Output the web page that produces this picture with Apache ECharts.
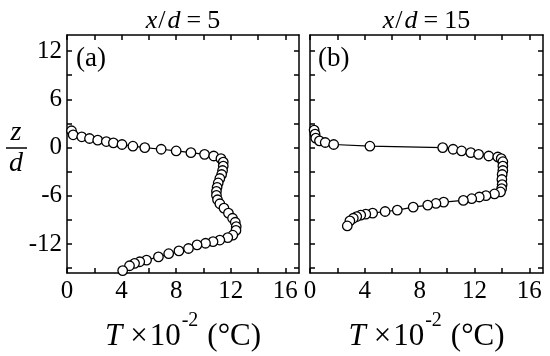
<!DOCTYPE html>
<html>
<head>
<meta charset="utf-8">
<script src="https://cdn.jsdelivr.net/npm/echarts@6/dist/echarts.min.js"></script>
<style>
html,body{margin:0;padding:0;background:#fff;}
#c{width:550px;height:356px;}
</style>
</head>
<body>
<div id="c"></div>
<script>
// Panel (a): x/d = 5
const tA = [0.33,0.45,1.08,1.65,2.25,2.88,3.4,4.03,4.83,5.7,6.9,8.0,9.08,10.08,10.75,11.28,11.45,11.45,11.4,11.33,11.2,11.08,11.0,10.95,10.95,11.03,11.2,11.5,11.83,12.13,12.33,12.4,12.38,12.15,11.78,11.2,10.7,10.15,9.53,8.9,8.2,7.45,6.7,5.83,5.33,4.95,4.58,4.08];
const zA = [2.09,1.59,1.34,1.13,0.92,0.75,0.59,0.38,0.17,0,-0.21,-0.42,-0.63,-0.84,-1.05,-1.38,-1.8,-2.3,-2.85,-3.35,-3.85,-4.4,-4.94,-5.44,-5.94,-6.49,-6.99,-7.53,-8.16,-8.79,-9.29,-9.83,-10.3,-10.9,-11.2,-11.5,-11.7,-11.9,-12.1,-12.55,-12.85,-13.2,-13.6,-14.0,-14.2,-14.4,-14.7,-15.3];
// Panel (b): x/d = 15
const tB = [0.3,0.37,0.42,0.69,1.11,1.73,4.37,9.68,10.44,11.06,11.73,12.3,13.04,13.7,13.95,14.07,14.07,14.07,14.02,14.0,14.02,13.98,13.9,13.46,12.84,12.35,11.8,11.19,9.75,9.19,8.59,7.53,6.37,5.48,4.57,4.07,3.7,3.41,3.16,2.91,2.72];
const zB = [2.18,1.67,1.17,0.84,0.63,0.38,0.17,0,-0.21,-0.42,-0.63,-0.84,-1.05,-1.17,-1.38,-1.76,-2.3,-2.85,-3.35,-3.97,-4.6,-5.1,-5.52,-5.77,-5.98,-6.15,-6.36,-6.57,-6.78,-6.95,-7.15,-7.41,-7.78,-7.95,-8.16,-8.28,-8.41,-8.58,-8.79,-9.12,-9.75];

const xTicks = [0,2,4,6,8,10,12,14,16];
const xLabels = [0,4,8,12,16];
const yTicks = [-15,-12,-9,-6,-3,0,3,6,9,12];
const yLabels = [-12,-6,0,6,12];
const titles = ['5','15'];
const panelTags = ['(a)','(b)'];

const FF = '"Liberation Serif", "Times New Roman", serif';
const X_MIN = 0, X_MAX = 17, Y_MIN = -15.6, Y_MAX = 14;

const chart = echarts.init(document.getElementById('c'), null, {renderer:'canvas'});

const lineSt = {color:'#000', width:1.5};
function xAx(gi, pos, showLabels){
  return {type:'value', gridIndex:gi, position:pos, min:X_MIN, max:X_MAX,
    axisLine:{show:true, onZero:false, lineStyle:lineSt},
    axisTick:{show:true, inside:true, length:5, customValues:xTicks, lineStyle:lineSt},
    axisLabel:{show:showLabels, customValues:xLabels, margin:6, color:'#000', fontFamily:FF, fontSize:25},
    splitLine:{show:false}};
}
function yAx(gi, pos, showLabels){
  return {type:'value', gridIndex:gi, position:pos, min:Y_MIN, max:Y_MAX,
    axisLine:{show:true, onZero:false, lineStyle:lineSt},
    axisTick:{show:true, inside:true, length:5, customValues:yTicks, lineStyle:lineSt},
    axisLabel:{show:showLabels, customValues:yLabels, margin:5, color:'#000', fontFamily:FF, fontSize:25},
    splitLine:{show:false}};
}

// text measurement for composing labels from runs
const mctx = document.createElement('canvas').getContext('2d');
function w(txt, size, italic){
  mctx.font = (italic?'italic ':'') + size + 'px ' + FF;
  return mctx.measureText(txt).width;
}
// runs: [text, size, italic, dy, gapAfter]
function runs(list, cx, baseline){
  const total = list.reduce((s,r)=>s + w(r[0], r[1], r[2]) + (r[4]||0), 0);
  let x = cx - total/2;
  const els = [];
  list.forEach(r=>{
    els.push({type:'text', x:x, y:baseline + (r[3]||0) - 0.3*r[1],
      style:{text:r[0], fontSize:r[1], fontFamily:FF, fontStyle:r[2]?'italic':'normal', fill:'#000', align:'left', verticalAlign:'middle'}});
    x += w(r[0], r[1], r[2]) + (r[4]||0);
  });
  return els;
}

const gridA = {left:67, right:251, top:35, bottom:83};
const gridB = {left:310, right:7, top:35, bottom:83};
const centers = [183, 426.5];

let graphics = [];
centers.forEach((cx,i)=>{
  graphics = graphics.concat(runs([['x',26,true,0,1],['/',26,false,0,2],['d',26,true,0,6],['=',26,false,0,6],[titles[i],26,false,0,0]], cx, 29));
  graphics = graphics.concat(runs([['T',31,true,0,8],['\u00d7',31,false,0,2],['10',31,false,0,1],['-2',20,false,-19,9],['(\u00b0C)',31,false,0,0]], cx, 346));
});
graphics.push({type:'text', x:76, y:59, style:{text:panelTags[0], fontSize:27, fontFamily:FF, fill:'#000', align:'left', verticalAlign:'middle'}});
graphics.push({type:'text', x:318, y:59, style:{text:panelTags[1], fontSize:27, fontFamily:FF, fill:'#000', align:'left', verticalAlign:'middle'}});
// z/d fraction
graphics.push({type:'text', x:16, y:133, style:{text:'z', fontSize:28, fontFamily:FF, fontStyle:'italic', fill:'#000', align:'center', verticalAlign:'middle'}});
graphics.push({type:'line', shape:{x1:6, y1:148, x2:27, y2:148}, style:{stroke:'#000', lineWidth:1.5}});
graphics.push({type:'text', x:16, y:164, style:{text:'d', fontSize:28, fontFamily:FF, fontStyle:'italic', fill:'#000', align:'center', verticalAlign:'middle'}});

function series(t, z, xi, yi){
  return {type:'line', xAxisIndex:xi, yAxisIndex:yi, data:t.map((v,k)=>[v, z[k]]),
    symbol:'circle', symbolSize:9.5, showSymbol:true, silent:true,
    lineStyle:{color:'#000', width:1.2},
    itemStyle:{color:'#fff', borderColor:'#000', borderWidth:1.3},
    emphasis:{disabled:true}};
}

chart.setOption({
  animation:false,
  backgroundColor:'#fff',
  grid:[gridA, gridB],
  xAxis:[xAx(0,'bottom',true), xAx(0,'top',false), xAx(1,'bottom',true), xAx(1,'top',false)],
  yAxis:[yAx(0,'left',true), yAx(0,'right',false), yAx(1,'left',false), yAx(1,'right',false)],
  series:[series(tA, zA, 0, 0), series(tB, zB, 2, 2)],
  graphic:graphics
});
</script>
</body>
</html>
